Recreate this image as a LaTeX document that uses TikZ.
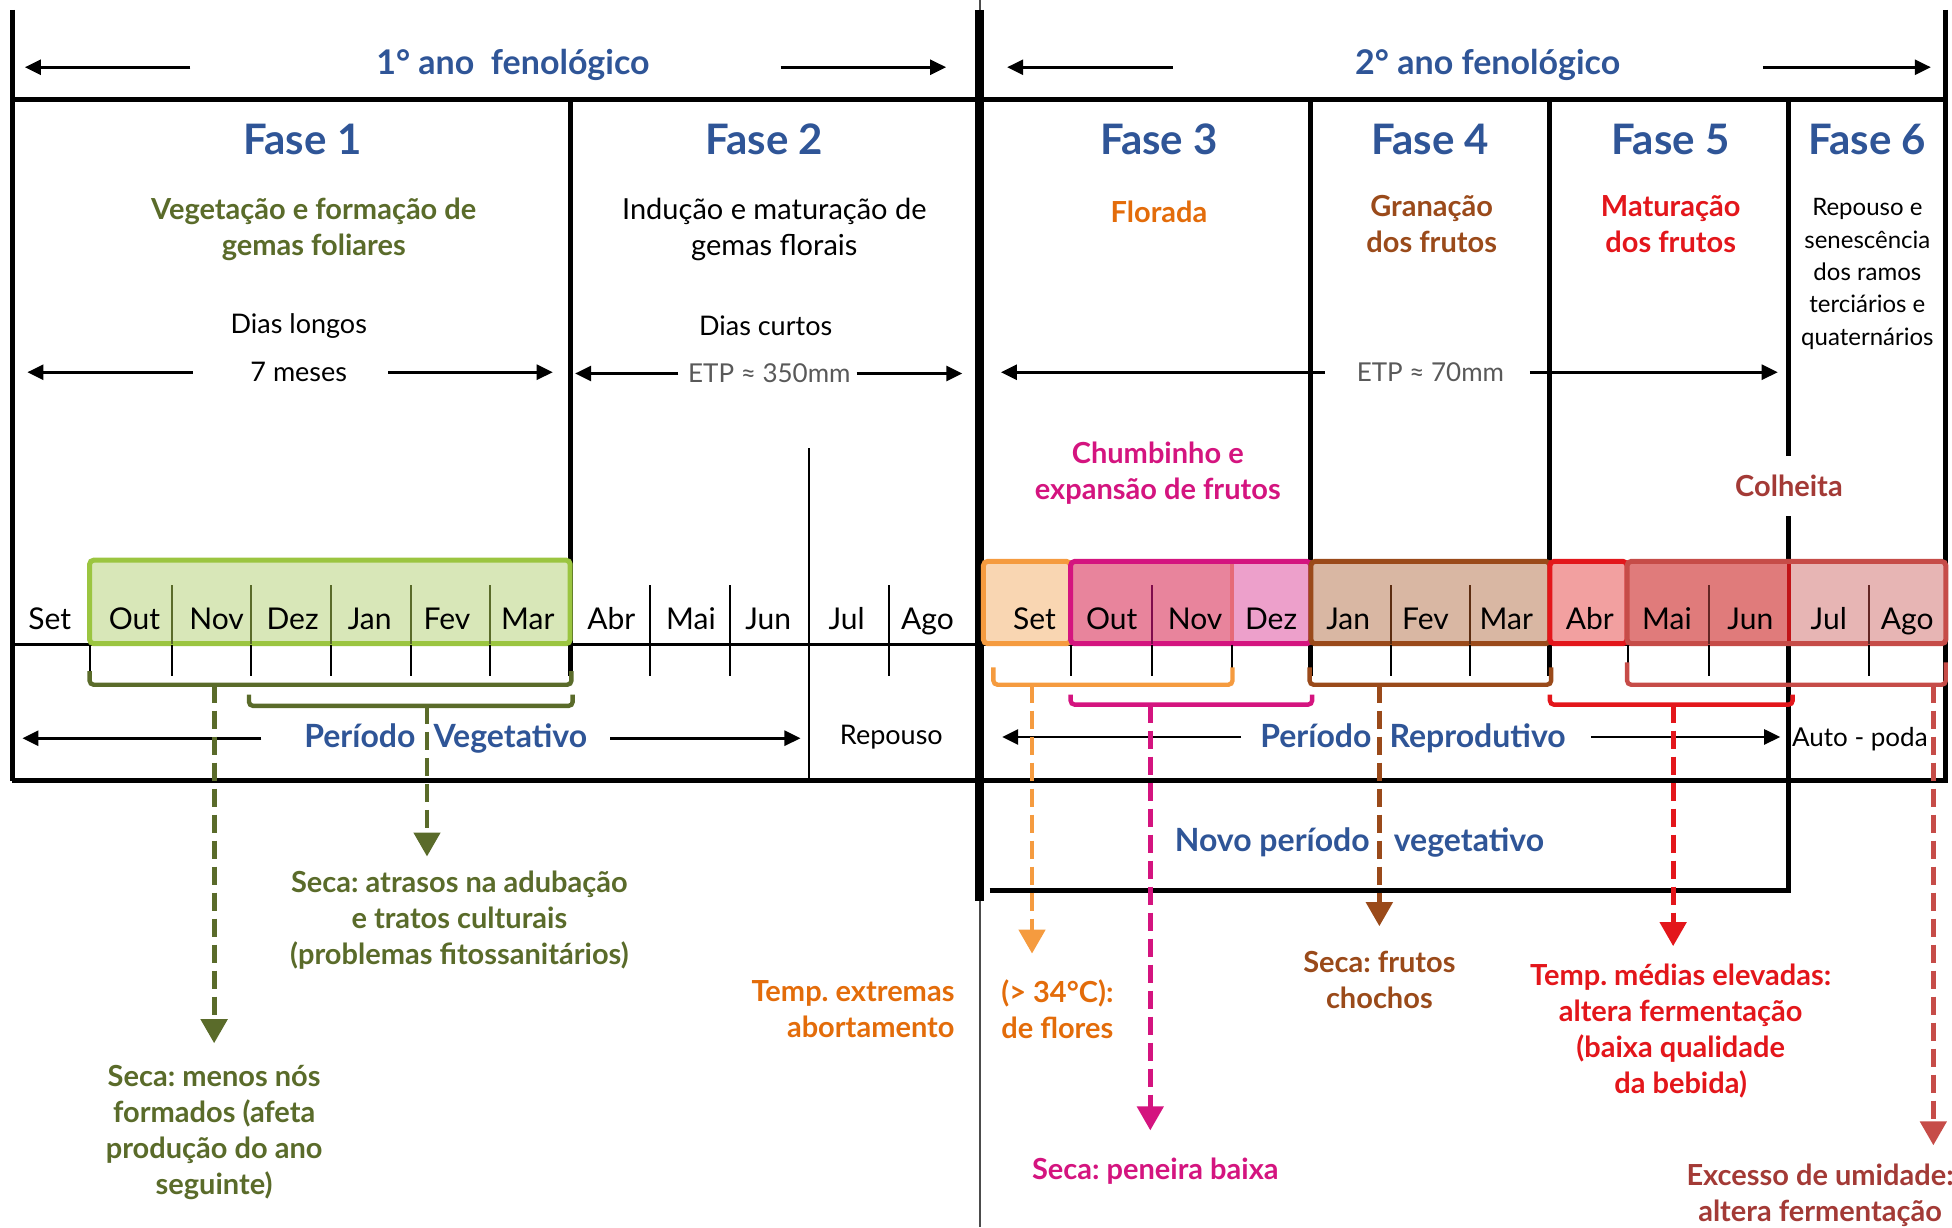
\documentclass[tikz,border=0pt]{standalone}
\usepackage{fontspec}
\setmainfont{Lato}
\frenchspacing
\usetikzlibrary{arrows.meta}
\definecolor{faseblue}{HTML}{2F5597}
\definecolor{olivec}{HTML}{5A6B2A}
\definecolor{lgreen}{HTML}{D8E7B8}
\definecolor{lgreenb}{HTML}{9BC540}
\definecolor{orangec}{HTML}{E36C0A}
\definecolor{orangeb}{HTML}{F59B3F}
\definecolor{setfill}{HTML}{F9D6B2}
\definecolor{magentac}{HTML}{D4147F}
\definecolor{pinkfill}{HTML}{E8849C}
\definecolor{pinkline}{HTML}{E66A78}
\definecolor{dezfill}{HTML}{EDA0CB}
\definecolor{brownc}{HTML}{9A4A1A}
\definecolor{tanfill}{HTML}{D9B7A3}
\definecolor{redc}{HTML}{E3161B}
\definecolor{abrfill}{HTML}{F2A0A0}
\definecolor{dullred}{HTML}{C64C48}
\definecolor{maifill}{HTML}{E07B7B}
\definecolor{julfill}{HTML}{E7B5B4}
\definecolor{colred}{HTML}{A33A36}
\definecolor{etpgray}{HTML}{595959}
\tikzset{
    frame/.style={line width=2.5pt},
    tick/.style={line width=1pt},
    monthbox/.style={line width=2.5pt,rounded corners=2pt},
    brk/.style={line width=2.2pt,rounded corners=2pt},
    drop/.style={line width=2.4pt,dash pattern=on 9pt off 4pt,-{Triangle[width=13pt,length=12pt]}},
    span/.style={line width=1.3pt,-{Triangle[width=7.5pt,length=8pt]}},
    txt/.style={inner sep=0pt,align=center},
    fase/.style={txt,text=faseblue,font=\fontsize{21}{25}\selectfont\bfseries},
    ttl/.style={txt,text=faseblue,font=\fontsize{17}{20}\selectfont\bfseries},
    per/.style={txt,text=faseblue,font=\fontsize{16}{19}\selectfont\bfseries},
    desc/.style={txt,font=\fontsize{14.5}{18}\selectfont\bfseries},
    body/.style={txt,font=\fontsize{13.5}{18}\selectfont},
    etp/.style={txt,text=etpgray,font=\fontsize{13}{18}\selectfont},
    mon/.style={inner sep=0pt,anchor=base,font=\fontsize{15}{18}\selectfont},
}

\begin{document}
\begin{tikzpicture}[x=0.6225pt,y=-0.6225pt]
    \useasboundingbox (0,0) rectangle (1568,986);
    % frame
    \draw[frame] (10,8) -- (10,627);
    \draw[frame] (1563,8) -- (1563,627);
    \draw[frame] (10,80) -- (1565,80);
    \draw[frame] (10,627) -- (1565,627);
    \draw[line width=1pt,black!70] (787,0) -- (787,986);
    \draw[line width=4.4pt] (787,8) -- (787,724);
    \foreach \x in {458,1053,1245}
        \draw[frame] (\x,80) -- (\x,543);
    \draw[frame] (1437,80) -- (1437,715);
    \draw[frame] (795,715) -- (1439,715);
    \draw[line width=1.2pt] (650,360) -- (650,627);
    \draw[line width=1.6pt] (10,518) -- (1565,518);

    % months
    \draw[monthbox,draw=lgreenb,fill=lgreen] (72,450) rectangle (458,517);
    \draw[monthbox,draw=orangeb,fill=setfill] (790,451) rectangle (860,517);
    \fill[dezfill] (990,451) rectangle (1053,517);
    \fill[pinkfill] (860,451) rectangle (990,517);
    \draw[line width=2pt,pinkline] (990,451) -- (990,517);
    \draw[monthbox,draw=magentac] (860,451) rectangle (1053,517);
    \draw[monthbox,draw=brownc,fill=tanfill] (1053,451) rectangle (1245,517);
    \draw[monthbox,draw=redc,fill=abrfill] (1245,451) rectangle (1307,517);
    \fill[maifill] (1307,451) rectangle (1437,517);
    \fill[julfill] (1437,451) rectangle (1563,517);
    \draw[line width=2pt,redc!85!black] (1437,451) -- (1437,517);
    \draw[monthbox,draw=dullred] (1307,451) rectangle (1563,517);
    \foreach \x in {138,202,266,330,394}
        \draw[tick,olivec] (\x,470) -- (\x,517);
    \foreach \x in {522,586,714}
        \draw[tick] (\x,470) -- (\x,518);
    \draw[tick,magentac!60!black] (925,470) -- (925,517);
    \foreach \x in {1117,1181}
        \draw[tick,brownc!60!black] (\x,470) -- (\x,517);
    \foreach \x in {1373,1501}
        \draw[tick,dullred!50!black] (\x,470) -- (\x,517);
    \foreach \x in {72,138,202,266,330,394,522,586,714,860,925,990,1117,1181,1308,1373,1501}
        \draw[tick] (\x,518) -- (\x,543);
    \foreach \x/\m [count=\i] in {40/Set,108/Out,174/Nov,235/Dez,297/Jan,359/Fev,424/Mar,491/Abr,555/Mai,617/Jun,680/Jul,745/Ago}
        \node[mon] (ma\i) at (\x,506) {\m};
    \foreach \x/\m [count=\i] in {831/Set,893/Out,960/Nov,1021/Dez,1083/Jan,1145/Fev,1210/Mar,1277/Abr,1339/Mai,1406/Jun,1469/Jul,1532/Ago}
        \node[mon] (mb\i) at (\x,506) {\m};

    % titles
    \node[ttl] (ano1) at (412,52) {1° ano\ \ fenológico};
    \node[ttl] (ano2) at (1195,52) {2° ano\ fenológico};
    \draw[span] (153,54) -- (20,54);
    \draw[span] (627,54) -- (760,54);
    \draw[span] (942,54) -- (809,54);
    \draw[span] (1416,54) -- (1551,54);
    \node[fase] (fase1) at (243,112) {Fase 1};
    \node[fase] (fase2) at (614,112) {Fase 2};
    \node[fase] (fase3) at (931,112) {Fase 3};
    \node[fase] (fase4) at (1149,112) {Fase 4};
    \node[fase] (fase5) at (1342,112) {Fase 5};
    \node[fase] (fase6) at (1500,112) {Fase 6};
    \node[desc,text=olivec] (veg) at (252,184) {Vegetação e\ formação de\\gemas foliares};
    \node[body,font=\fontsize{14.5}{18}\selectfont] (ind) at (622,184) {Indução e maturação de\\gemas florais};
    \node[desc,text=orangec] (flo) at (931,170) {Florada};
    \node[desc,text=brownc] (gra) at (1150,180) {Granação\\dos frutos};
    \node[desc,text=redc] (mat) at (1342,180) {Maturação\\dos frutos};
    \node[body,font=\fontsize{12}{16.2}\selectfont] (rep6) at (1500,220) {Repouso e\\senescência\\dos ramos\\terciários e\\quaternários};
    \node[body] (dl) at (240,262) {Dias longos};
    \node[body] (sete) at (240,299) {7 meses};
    \node[body] (dc) at (615,262) {Dias curtos};
    \node[etp] (etp1) at (618,300) {ETP ≈ 350mm};
    \node[etp] (etp2) at (1149,299) {ETP ≈ 70mm};
    \draw[span] (155,299) -- (22,299);
    \draw[span] (312,299) -- (444,299);
    \draw[span] (545,300) -- (462,300);
    \draw[span] (688,300) -- (773,300);
    \draw[span] (1064,299) -- (804,299);
    \draw[span] (1229,299) -- (1428,299);
    \node[desc,text=magentac] (chu) at (930,380) {Chumbinho e\\expansão de frutos};
    \node[desc,text=colred,fill=white,minimum height=30pt] (col) at (1437,390) {Colheita};

    % periods
    \node[per] (pveg) at (358,593) {Período\hspace{9pt}Vegetativo};
    \draw[span] (210,593) -- (18,593);
    \draw[span] (490,593) -- (643,593);
    \node[body] (rpo) at (716,592) {Repouso};
    \node[per] (prep) at (1135,593) {Período\hspace{9pt}Reprodutivo};
    \draw[span] (997,592) -- (805,592);
    \draw[span] (1278,592) -- (1430,592);
    \node[body,font=\fontsize{13}{18}\selectfont] (apo) at (1494,594) {Auto - poda};
    \node[per] (novo) at (1092,677) {Novo período\hspace{12pt}vegetativo};

    % brackets
    \draw[brk,olivec] (72,539) -- (72,550) -- (459,550) -- (459,539);
    \draw[brk,olivec] (200,558) -- (200,567) -- (460,567) -- (460,558);
    \draw[brk,orangeb] (798,536) -- (798,550) -- (990,550) -- (990,536);
    \draw[brk,magentac] (860,558) -- (860,566) -- (1054,566) -- (1054,558);
    \draw[brk,brownc] (1052,536) -- (1052,550) -- (1246,550) -- (1246,536);
    \draw[brk,redc] (1245,558) -- (1245,566) -- (1440,566) -- (1440,558);
    \draw[brk,dullred] (1307,532) -- (1307,550) -- (1563,550) -- (1563,532);
    \coordinate (g1) at (172,550);
    \coordinate (g1e) at (172,838);
    \coordinate (g2) at (343,567);
    \coordinate (g2e) at (343,688);
    \coordinate (o1) at (829,550);
    \coordinate (o1e) at (829,766);
    \coordinate (p1) at (924,566);
    \coordinate (p1e) at (924,908);
    \coordinate (b1) at (1108,550);
    \coordinate (b1e) at (1108,744);
    \coordinate (r1) at (1344,566);
    \coordinate (r1e) at (1344,760);
    \coordinate (d1) at (1553,550);
    \coordinate (d1e) at (1553,920);
    \draw[drop,olivec] (g1) -- (g1e);
    \draw[drop,olivec] (g2) -- (g2e);
    \draw[drop,orangeb] (o1) -- (o1e);
    \draw[drop,magentac] (p1) -- (p1e);
    \draw[drop,brownc] (b1) -- (b1e);
    \draw[drop,redc] (r1) -- (r1e);
    \draw[drop,dullred] (d1) -- (d1e);

    % effects
    \node[desc,text=olivec] (atr) at (369,739) {Seca: atrasos na adubação\\e tratos culturais\\(problemas fitossanitários)};
    \node[desc,text=olivec] (nos) at (172,910) {Seca: menos nós\\formados (afeta\\produção do ano\\seguinte)};
    \node[desc,text=orangec,align=right,anchor=east] (tex) at (767,811) {Temp. extremas\\abortamento};
    \node[desc,text=orangec,align=left,anchor=west] (tgr) at (804,811) {(> 34°C):\\de flores};
    \node[desc,text=magentac] (pen) at (928,941) {Seca: peneira baixa};
    \node[desc,text=brownc] (cho) at (1108,787) {Seca: frutos\\chochos};
    \node[desc,text=redc] (tme) at (1350,828) {Temp. médias elevadas:\\altera fermentação\\(baixa qualidade\\da bebida)};
    \node[desc,text=colred] (exc) at (1462,960) {Excesso de umidade:\\altera fermentação};
\end{tikzpicture}
\end{document}
